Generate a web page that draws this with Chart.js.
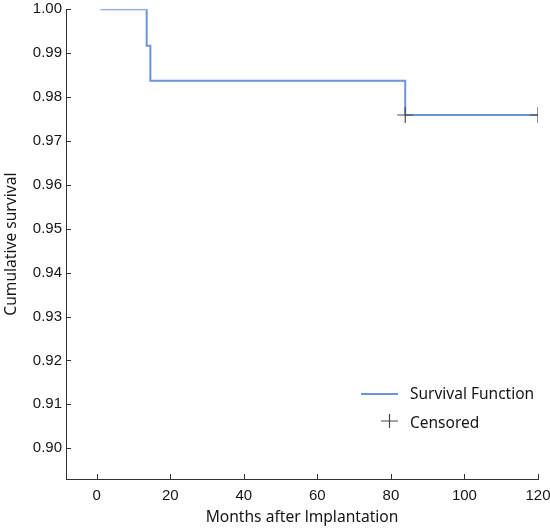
<!DOCTYPE html>
<html>
<head>
<meta charset="utf-8">
<script src="https://cdn.jsdelivr.net/npm/chart.js@4/dist/chart.umd.min.js"></script>
<style>
html,body{margin:0;padding:0;background:#fff;}
#wrap{width:550px;height:530px;}
</style>
</head>
<body>
<div id="wrap"><canvas id="c" width="550" height="530"></canvas></div>
<script>
// Kaplan-Meier steps (time in months, cumulative survival)
const stepTimes = [1, 13.6, 14.6, 83.9, 120];
const stepSurvival = [1.0, 0.9917, 0.9837, 0.9759, 0.9759];
// Censored observations
const censorTimes = [83.9, 120];
const censorSurvival = [0.9759, 0.9759];
// Tick labels
const xTicks = [0, 20, 40, 60, 80, 100, 120];
const yTicks = [0.90, 0.91, 0.92, 0.93, 0.94, 0.95, 0.96, 0.97, 0.98, 0.99, 1.00];
// Legend labels
const legendLabels = ['Survival Function', 'Censored'];

const LINE_COLOR = '#6b95d8';
const CROSS_COLOR = '#4a4a4a';
const TEXT_COLOR = '#161616';

const inwardTicks = {
  id: 'inwardTicks',
  afterDraw(chart) {
    const {ctx, chartArea, scales} = chart;
    ctx.save();
    ctx.strokeStyle = '#333';
    ctx.lineWidth = 1;
    ctx.beginPath();
    xTicks.forEach(v => {
      const px = Math.round(scales.x.getPixelForValue(v)) + 0.5;
      ctx.moveTo(px, chartArea.bottom);
      ctx.lineTo(px, chartArea.bottom - 5);
    });
    yTicks.forEach(v => {
      const py = Math.round(scales.y.getPixelForValue(v)) + 0.5;
      ctx.moveTo(chartArea.left, py);
      ctx.lineTo(chartArea.left + 5, py);
    });
    ctx.stroke();

    // legend
    const lx = 361, ly1 = 394, ly2 = 421;
    ctx.strokeStyle = LINE_COLOR;
    ctx.lineWidth = 2;
    ctx.beginPath();
    ctx.moveTo(lx, ly1);
    ctx.lineTo(lx + 37, ly1);
    ctx.stroke();
    ctx.strokeStyle = CROSS_COLOR;
    ctx.lineWidth = 1.2;
    ctx.beginPath();
    ctx.moveTo(381, ly2); ctx.lineTo(398, ly2);
    ctx.moveTo(389.5, ly2 - 7); ctx.lineTo(389.5, ly2 + 7);
    ctx.stroke();
    ctx.fillStyle = TEXT_COLOR;
    ctx.font = '15.5px "Noto Sans"';
    ctx.textBaseline = 'alphabetic';
    ctx.textAlign = 'left';
    ctx.fillText(legendLabels[0], 410, 398.5);
    ctx.fillText(legendLabels[1], 410, 428);
    ctx.restore();
  }
};

new Chart(document.getElementById('c'), {
  type: 'scatter',
  data: {
    datasets: [
      {
        type: 'line',
        label: legendLabels[0],
        data: stepTimes.map((t, i) => ({x: t, y: stepSurvival[i]})),
        stepped: 'before',
        borderColor: LINE_COLOR,
        borderWidth: 2,
        pointRadius: 0,
        fill: false,
        order: 2
      },
      {
        label: legendLabels[1],
        data: censorTimes.map((t, i) => ({x: t, y: censorSurvival[i]})),
        pointStyle: 'cross',
        pointRadius: 8,
        borderColor: CROSS_COLOR,
        borderWidth: 1.2,
        backgroundColor: CROSS_COLOR,
        order: 1
      }
    ]
  },
  options: {
    responsive: false,
    animation: false,
    devicePixelRatio: 1,
    layout: {padding: {top: 7, right: 12, left: 0, bottom: 0}},
    plugins: {legend: {display: false}, tooltip: {enabled: false}},
    scales: {
      x: {
        type: 'linear',
        min: -8.34,
        max: 120,
        afterBuildTicks: s => { s.ticks = xTicks.map(v => ({value: v})); },
        afterFit: s => { s.height = 51; s.paddingLeft = 0; s.paddingRight = 0; },
        grid: {display: true, drawOnChartArea: false, drawTicks: false},
        border: {display: true, color: '#333', width: 1},
        ticks: {
          color: TEXT_COLOR,
          padding: 8,
          maxRotation: 0,
          font: {family: '"Liberation Sans", Arial, sans-serif', size: 15},
          callback: v => String(v)
        },
        title: {
          display: true,
          text: 'Months after lmplantation',
          color: TEXT_COLOR,
          font: {family: '"Noto Sans"', size: 15.6, lineHeight: 1.2},
          padding: {top: 0, bottom: 3}
        }
      },
      y: {
        type: 'linear',
        min: 0.893,
        max: 1.0,
        afterBuildTicks: s => { s.ticks = yTicks.map(v => ({value: v})); },
        afterFit: s => { s.width = 66; s.paddingTop = 0; s.paddingBottom = 0; },
        grid: {display: true, drawOnChartArea: false, drawTicks: false},
        border: {display: true, color: '#333', width: 1},
        ticks: {
          color: TEXT_COLOR,
          padding: 4,
          font: {family: '"Liberation Sans", Arial, sans-serif', size: 15},
          callback: v => v.toFixed(2)
        },
        title: {
          display: true,
          text: 'Cumulative survival',
          color: TEXT_COLOR,
          font: {family: '"Noto Sans"', size: 15.6, lineHeight: 1.2},
          padding: {top: 2, bottom: 0}
        }
      }
    }
  },
  plugins: [inwardTicks]
});
</script>
</body>
</html>
